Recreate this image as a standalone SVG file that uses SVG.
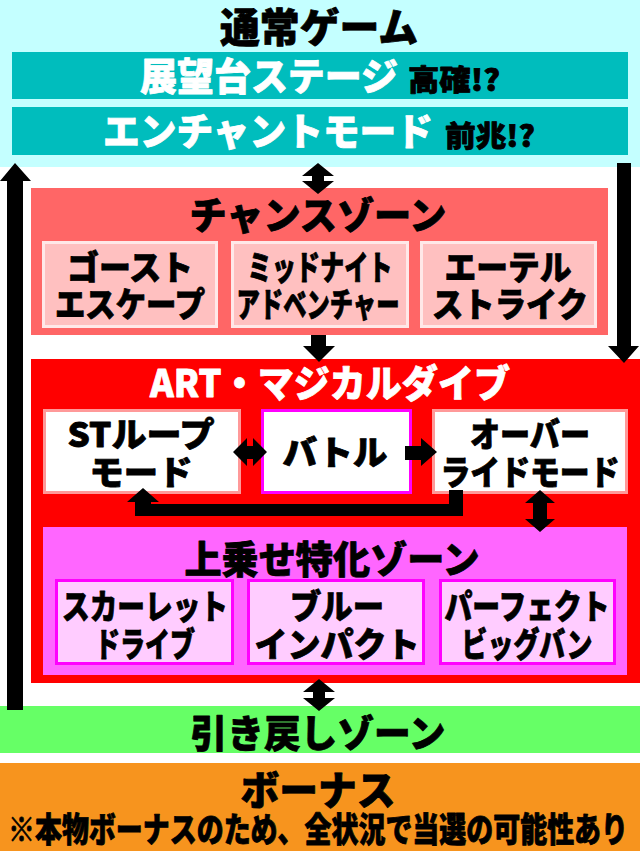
<svg xmlns="http://www.w3.org/2000/svg" width="640" height="851" viewBox="0 0 640 851">
<style>
text{font-family:"Noto Sans CJK JP","Noto Sans CJK SC",sans-serif;font-weight:900;text-anchor:middle;fill:#000;stroke:#000;stroke-width:0.8px;stroke-linejoin:round;}
.w{fill:#fff;stroke:#fff;}
.st{text-anchor:start;}
.t{font-size:38px;}
.s{font-size:34px;}
.m{font-size:29px;}
.csub{fill:#FFC0C0;stroke:#FFE8E8;stroke-width:3;}
.wbox{fill:#fff;stroke:#FF9999;stroke-width:3;}
.mbox{fill:#fff;stroke:#FF00FF;stroke-width:3;}
.msub{fill:#FFCCFF;stroke:#FF00FF;stroke-width:3;}
.arr{fill:#000;}
</style>
<rect x="0" y="0" width="640" height="851" fill="#fff"/>
<g id="normal">
<rect x="0" y="0" width="640" height="167" fill="#C4FFFF"/>
<text class="t" x="319" y="42" style="font-size:40px" textLength="198" lengthAdjust="spacingAndGlyphs">通常ゲーム</text>
</g>
<g id="stage">
<rect x="12" y="52" width="616" height="47" fill="#00BDBD"/>
<text class="t w st" x="140" y="90" textLength="258" lengthAdjust="spacingAndGlyphs">展望台ステージ</text>
<text class="m st" x="408" y="91" textLength="92" lengthAdjust="spacingAndGlyphs">高確!?</text>
</g>
<g id="enchant">
<rect x="12" y="107" width="616" height="48" fill="#00BDBD"/>
<text class="t w st" x="103" y="145" textLength="330" lengthAdjust="spacingAndGlyphs">エンチャントモード</text>
<text class="m st" x="445" y="147" textLength="90" lengthAdjust="spacingAndGlyphs">前兆!?</text>
</g>
<g id="chance">
<rect x="31" y="188" width="577" height="147" fill="#FF6666"/>
<text class="t" x="318" y="229" textLength="257" lengthAdjust="spacingAndGlyphs">チャンスゾーン</text>
</g>
<g id="ghost">
<rect class="csub" x="43.5" y="242.5" width="173" height="84"/>
<text class="s" x="130" y="280" textLength="126" lengthAdjust="spacingAndGlyphs">ゴースト</text>
<text class="s" x="130" y="317" textLength="150" lengthAdjust="spacingAndGlyphs">エスケープ</text>
</g>
<g id="midnight">
<rect class="csub" x="232.5" y="242.5" width="175" height="84"/>
<text class="s" x="320" y="280" textLength="145" lengthAdjust="spacingAndGlyphs">ミッドナイト</text>
<text class="s" x="318" y="317" textLength="163" lengthAdjust="spacingAndGlyphs">アドベンチャー</text>
</g>
<g id="ethereal">
<rect class="csub" x="421.5" y="242.5" width="174" height="84"/>
<text class="s" x="508" y="280" textLength="127" lengthAdjust="spacingAndGlyphs">エーテル</text>
<text class="s" x="510" y="317" textLength="156" lengthAdjust="spacingAndGlyphs">ストライク</text>
</g>
<g id="art">
<rect x="31" y="359" width="609" height="324" fill="#FF0000"/>
<text class="t w" x="330" y="397" textLength="360" lengthAdjust="spacingAndGlyphs">ART・マジカルダイブ</text>
</g>
<g id="stloop">
<rect class="wbox" x="44.5" y="410.5" width="195" height="82"/>
<text class="s" x="141" y="447" textLength="147" lengthAdjust="spacingAndGlyphs">STループ</text>
<text class="s" x="141" y="485" textLength="103" lengthAdjust="spacingAndGlyphs">モード</text>
</g>
<g id="battle">
<rect class="mbox" x="262.5" y="410.5" width="148" height="82"/>
<text class="s" x="335" y="465" textLength="105" lengthAdjust="spacingAndGlyphs">バトル</text>
</g>
<g id="override">
<rect class="wbox" x="433.5" y="410.5" width="193" height="82"/>
<text class="s" x="530" y="447" textLength="120" lengthAdjust="spacingAndGlyphs">オーバー</text>
<text class="s" x="530" y="485" textLength="179" lengthAdjust="spacingAndGlyphs">ライドモード</text>
</g>
<g id="uwanose">
<rect x="43" y="527" width="584" height="148" fill="#FF66FF"/>
<text class="t" x="332" y="573" textLength="295" lengthAdjust="spacingAndGlyphs">上乗せ特化ゾーン</text>
</g>
<g id="scarlet">
<rect class="msub" x="56.5" y="580.5" width="176" height="83"/>
<text class="s" x="145" y="619" textLength="166" lengthAdjust="spacingAndGlyphs">スカーレット</text>
<text class="s" x="145" y="657" textLength="100" lengthAdjust="spacingAndGlyphs">ドライブ</text>
</g>
<g id="blue">
<rect class="msub" x="248.5" y="580.5" width="175" height="83"/>
<text class="s" x="337" y="619" textLength="94" lengthAdjust="spacingAndGlyphs">ブルー</text>
<text class="s" x="337" y="657" textLength="165" lengthAdjust="spacingAndGlyphs">インパクト</text>
</g>
<g id="perfect">
<rect class="msub" x="440.5" y="580.5" width="174" height="83"/>
<text class="s" x="527" y="619" textLength="165" lengthAdjust="spacingAndGlyphs">パーフェクト</text>
<text class="s" x="527" y="657" textLength="131" lengthAdjust="spacingAndGlyphs">ビッグバン</text>
</g>
<g id="hikimodoshi">
<rect x="0" y="706" width="640" height="47" fill="#66FF66"/>
<text class="t" x="318" y="747" textLength="255" lengthAdjust="spacingAndGlyphs">引き戻しゾーン</text>
</g>
<g id="bonus">
<rect x="0" y="763" width="640" height="88" fill="#F7941E"/>
<text class="t" x="318" y="805" style="font-size:40px" textLength="155" lengthAdjust="spacingAndGlyphs">ボーナス</text>
<text class="s" x="318" y="842" textLength="620" lengthAdjust="spacingAndGlyphs">※本物ボーナスのため、全状況で当選の可能性あり</text>
</g>
<g id="connectors" class="arr">
<polygon points="15,163 31,181 23,181 23,710 7,710 7,181 0,181"/>
<polygon points="617,163 631,163 631,346 639,346 624,363 608,346 617,346"/>
<polygon points="318,163 334,176 324,176 324,181 334,181 318,194 302,181 312,181 312,176 302,176"/>
<polygon points="311,335 326,335 326,346 335,346 319,362 303,346 311,346"/>
<polygon points="233,452 247,438 247,446 253,446 253,438 267,452 253,466 253,459 247,459 247,466"/>
<polygon points="405,446 421,446 421,438 437,452 421,466 421,460 405,460"/>
<polygon points="449,490 463,490 463,516 135,516 135,502 127,502 143,488 159,502 151,502 151,504 449,504"/>
<polygon points="540,490 555,503 547,503 547,519 555,519 540,532 525,519 533,519 533,503 525,503"/>
<polygon points="319,679 335,692 325,692 325,698 335,698 319,711 303,698 313,698 313,692 303,692"/>
</g>
</svg>
